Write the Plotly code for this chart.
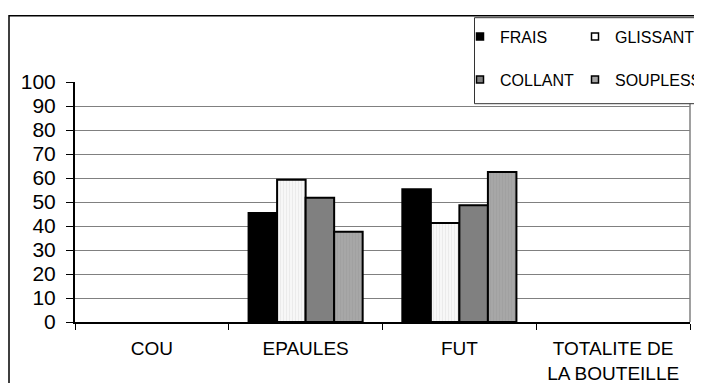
import plotly.graph_objects as go

categories = ["COU", "EPAULES", "FUT", "TOTALITE DE<br>LA BOUTEILLE"]
frais = [None, 45.4, 55.3, None]
glissant = [None, 59.3, 41.2, None]
collant = [None, 51.8, 48.6, None]
souplesse = [None, 37.6, 62.5, None]
y_ticks = list(range(0, 101, 10))

series = [
    ("FRAIS", frais, dict(color="#000000")),
    ("GLISSANT", glissant, dict(color="#f4f4f4", pattern=dict(shape="|", fgcolor="#dcdcdc", bgcolor="#f7f7f7", size=3, solidity=0.3))),
    ("COLLANT", collant, dict(color="#808080")),
    ("SOUPLESSE", souplesse, dict(color="#a4a4a4", pattern=dict(shape="|", fgcolor="#9a9a9a", bgcolor="#a8a8a8", size=3, solidity=0.4))),
]
legend_colors = ["#000000", "#ffffff", "#808080", "#a4a4a4"]
legend_ids = ["legend", "legend2", "legend3", "legend4"]

fig = go.Figure()
for name, vals, mk in series:
    mk = dict(mk)
    mk["line"] = dict(color="#000000", width=2)
    fig.add_trace(go.Bar(x=categories, y=vals, name=name, marker=mk, showlegend=False))

for i, (name, _, _) in enumerate(series):
    fig.add_trace(go.Scatter(
        x=[None], y=[None], mode="markers", name=name,
        marker=dict(symbol="square", size=7, color=legend_colors[i], line=dict(color="#000000", width=1.5)),
        legend=legend_ids[i], showlegend=True))

# page has an 8px body margin: figure drawn at 8px offset, so these map screen px
def px_x(p):
    return (p - 75) / 615.0

def px_y(p):
    return (322.3 - p) / 240.0

def leg(xp, yp):
    return dict(orientation="h", x=px_x(xp), y=px_y(yp), xanchor="left", yanchor="middle",
                bgcolor="rgba(0,0,0,0)", font=dict(size=16))

fig.update_layout(
    width=694, height=375,
    margin=dict(l=67, r=12, t=74.3, b=60.7, autoexpand=False),
    paper_bgcolor="white", plot_bgcolor="white",
    font=dict(family="Liberation Sans, Arial, sans-serif", color="#000000"),
    barmode="group", bargap=0.258, bargroupgap=0,
    xaxis=dict(showline=True, linecolor="#000000", linewidth=2, ticks="outside", ticklen=6,
               tickcolor="#000000", tickson="boundaries", showgrid=False,
               tickfont=dict(size=19), ticklabelstandoff=8, fixedrange=True),
    yaxis=dict(range=[0, 100], tickvals=y_ticks, showline=True, linecolor="#000000", linewidth=2,
               ticks="outside", ticklen=7, tickcolor="#000000", showgrid=True,
               gridcolor="#808080", gridwidth=1, zeroline=False, tickfont=dict(size=21),
               ticklabelstandoff=6),
    legend=leg(460, 37),
    legend2=leg(575, 37),
    legend3=leg(460, 80),
    legend4=leg(575, 80),
    shapes=[
        dict(type="rect", xref="paper", yref="paper", x0=px_x(9), x1=1.2, y0=-0.5, y1=px_y(16),
             line=dict(color="#000000", width=1.5), fillcolor="rgba(0,0,0,0)", layer="above"),
        dict(type="line", xref="x domain", yref="y", x0=1, x1=1, y0=0, y1=100,
             line=dict(color="#808080", width=1.5), layer="below"),
        dict(type="rect", xref="paper", yref="paper", x0=px_x(474.5), x1=1.2, y0=px_y(104), y1=px_y(18),
             line=dict(color="#333333", width=1), fillcolor="white", layer="above"),
    ],
)

fig.write_html("out.html")
